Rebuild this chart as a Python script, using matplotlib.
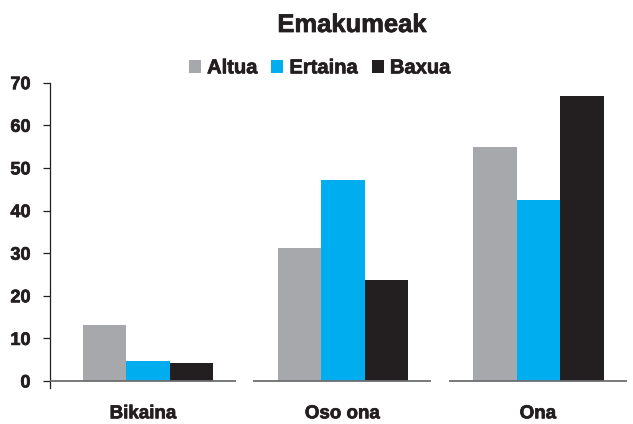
import matplotlib
matplotlib.use("Agg")
import matplotlib.pyplot as plt
import matplotlib.patheffects as pe
import numpy as np

# values (percent)
categories = ["Bikaina", "Oso ona", "Ona"]
series_names = ["Altua", "Ertaina", "Baxua"]
altua = [13.1, 31.2, 54.9]
ertaina = [4.7, 47.2, 42.5]
baxua = [4.2, 23.7, 66.9]
yticks = [0, 10, 20, 30, 40, 50, 60, 70]

colors = ["#A7A8AC", "#00AEEF", "#231F20"]
text_color = "#231F20"

plt.rcParams["font.family"] = ["Liberation Sans", "DejaVu Sans"]
plt.rcParams["font.weight"] = "bold"

# slightly heavier strokes to get closer to the reference's bold face
heavy = [pe.withStroke(linewidth=0.5, foreground=text_color)]

fig = plt.figure(figsize=(6.33, 4.24), dpi=100)
ax = fig.add_axes([0.079, 0.1014, 0.9265, 0.7036])

x = np.arange(len(categories))
width = 0.2225
for k, (name, vals) in enumerate(zip(series_names, [altua, ertaina, baxua])):
    ax.bar(x + (k - 1) * width, vals, width, color=colors[k], label=name,
           linewidth=0, zorder=2)

ax.set_xlim(-0.5, 2.5)
ax.set_ylim(0, 70)

# broken baseline, one segment per category
starts = x - 0.46
starts[0] = ax.get_xlim()[0]
ends = x + 0.45
ax.hlines([0] * len(x), starts, ends, color="#6D6E71", linewidth=1.3,
          zorder=3, clip_on=False)

for side in ["top", "right", "bottom"]:
    ax.spines[side].set_visible(False)
ax.spines["left"].set_color(text_color)
ax.spines["left"].set_linewidth(0.9)
ax.spines["left"].set_bounds(-1.6, 70)

ax.set_yticks(yticks)
ax.set_yticklabels([str(t) for t in yticks], fontsize=13, fontweight="bold",
                   color=text_color)
ax.tick_params(axis="y", length=5, width=0.9, color=text_color, pad=9)

ax.set_xticks((starts + ends) / 2)
ax.set_xticklabels(categories, fontsize=13.5, fontweight="bold", color=text_color)
ax.tick_params(axis="x", length=0, pad=17.5)

for t in ax.get_xticklabels() + ax.get_yticklabels():
    t.set_path_effects(heavy)

title = fig.text(0.556, 0.941, "Emakumeak", ha="center", va="center",
                 fontsize=18.4, fontweight="bold", color=text_color)
title.set_path_effects(heavy)

leg = fig.legend(loc="center", bbox_to_anchor=(0.505, 0.84), ncol=3,
                 frameon=False, fontsize=14.5, handlelength=0.6,
                 handleheight=0.6, handletextpad=0.3, columnspacing=0.7,
                 borderaxespad=0)
for t in leg.get_texts():
    t.set_color(text_color)
    t.set_fontweight("bold")
    t.set_path_effects(heavy)

fig.savefig("out.png", dpi=100)
